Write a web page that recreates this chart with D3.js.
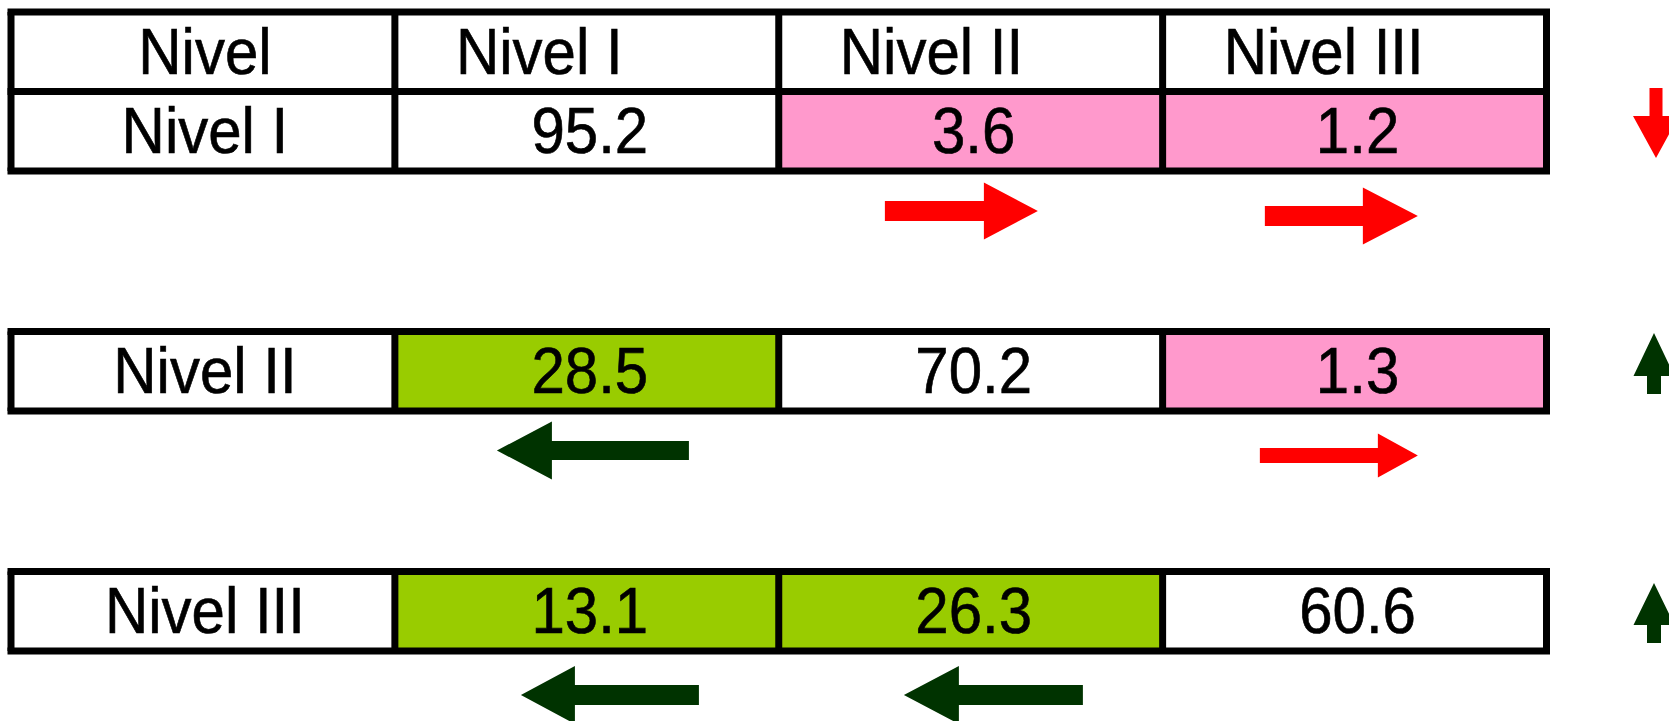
<!DOCTYPE html>
<html>
<head>
<meta charset="utf-8">
<script src="https://cdn.jsdelivr.net/npm/d3@7"></script>
<style>
  html, body { margin: 0; padding: 0; background: #fff; }
  svg { display: block; }
  text { font-family: "Liberation Sans", Arial, sans-serif; }
</style>
</head>
<body>
<svg id="chart" width="1669" height="721"></svg>
<script>
// ---------- data ----------
const headerLabels = ["Nivel", "Nivel I", "Nivel II", "Nivel III"];
const rowLabels = ["Nivel I", "Nivel II", "Nivel III"];
const rowNivelI   = [95.2, 3.6, 1.2];
const rowNivelII  = [28.5, 70.2, 1.3];
const rowNivelIII = [13.1, 26.3, 60.6];
const trend = ["down", "up", "up"];

// ---------- layout / style ----------
const colors = { up: "#FF99CC", down: "#99CC00", same: "#FFFFFF",
                 red: "#FF0000", green: "#003300", line: "#000000" };
const rowH = 79.5;
const lineW = 7;
const fontSize = 60, fontStretchY = 1.08, baseOffset = 22;

// offsets of the transition arrows relative to their cell (tail dx, tip dx, dy below row, shaft, head, headLen)
const arrowLayout = {
  "0-2": [-85.8, 67.2, 40, 20, 57, 54],
  "0-3": [-89.7, 63.3, 45, 20, 57, 55],
  "1-1": [102.1, -89.9, 39.5, 19, 58, 55],
  "1-3": [-94.7, 63.3, 44.5, 15, 44, 40],
  "2-1": [112.1, -65.9, 44, 20, 58, 54],
  "2-2": [112.2, -66.8, 44, 20, 58, 55]
};
// trend arrows at right: (dx from table right, tail dy, tip dy from row top, shaft, head, headLen)
const trendLayout = [
  [109.5, -3.5, 66.5, 13, 46, 42],
  [107.5, 62.5, 1.5, 14, 41, 43],
  [107.5, 71.5, 11.5, 14, 41, 42]
];

const matrix = [rowNivelI, rowNivelII, rowNivelIII];

const svg = d3.select("#chart");

const x = d3.scaleBand().domain(d3.range(headerLabels.length)).range([11, 1546.5]);
const y = d3.scaleLinear().domain([0, rowLabels.length - 1]).range([91.5, 571.5]);
const cx = c => x(c) + x.bandwidth() / 2;
const xRight = x(headerLabels.length - 1) + x.bandwidth();

function addText(g, str, tx, ty, anchor) {
  g.append("g")
    .attr("transform", `translate(${tx},${ty}) scale(1,${fontStretchY})`)
    .append("text")
    .attr("x", 0).attr("y", 0)
    .attr("text-anchor", anchor)
    .attr("font-size", fontSize)
    .attr("fill", "#000")
    .attr("stroke", "#000")
    .attr("stroke-width", 0.6)
    .text(str);
}

function hArrow(tail, tip, cyv, s, h, hl) {
  const d = Math.sign(tip - tail);
  const bx = tip - d * hl;
  return [[tail, cyv - s / 2], [bx, cyv - s / 2], [bx, cyv - h / 2], [tip, cyv],
          [bx, cyv + h / 2], [bx, cyv + s / 2], [tail, cyv + s / 2]];
}
function vArrow(cxv, tail, tip, s, h, hl) {
  const d = Math.sign(tip - tail);
  const by = tip - d * hl;
  return [[cxv - s / 2, tail], [cxv - s / 2, by], [cxv - h / 2, by], [cxv, tip],
          [cxv + h / 2, by], [cxv + s / 2, by], [cxv + s / 2, tail]];
}
const line = d3.line();

// ---------- cells ----------
const headerTop = y(0) - rowH;
const gc = svg.append("g");
headerLabels.forEach((lab, c) => {
  gc.append("rect").attr("x", x(c)).attr("y", headerTop)
    .attr("width", x.bandwidth()).attr("height", rowH).attr("fill", "#fff");
});
rowLabels.forEach((lab, i) => {
  const top = y(i);
  gc.append("rect").attr("x", x(0)).attr("y", top).attr("width", x.bandwidth()).attr("height", rowH).attr("fill", colors.same);
  matrix[i].forEach((v, j) => {
    const cls = j > i ? "up" : (j < i ? "down" : "same");
    gc.append("rect").attr("x", x(j + 1)).attr("y", top)
      .attr("width", x.bandwidth()).attr("height", rowH).attr("fill", colors[cls]);
  });
});

// ---------- grid lines ----------
const gl = svg.append("g").attr("stroke", colors.line).attr("stroke-width", lineW).attr("fill", "none");
function hLine(yy) {
  gl.append("line").attr("x1", x(0) - lineW / 2).attr("x2", xRight + lineW / 2).attr("y1", yy).attr("y2", yy);
}
function vLines(y0, y1) {
  d3.range(headerLabels.length + 1).forEach(c => {
    const xx = c < headerLabels.length ? x(c) : xRight;
    gl.append("line").attr("x1", xx).attr("x2", xx).attr("y1", y0).attr("y2", y1);
  });
}
[headerTop, y(0), y(0) + rowH].forEach(hLine);
vLines(headerTop, y(0) + rowH);
[1, 2].forEach(i => {
  [y(i), y(i) + rowH].forEach(hLine);
  vLines(y(i), y(i) + rowH);
});

// ---------- texts ----------
const gt = svg.append("g");
headerLabels.forEach((lab, c) => {
  if (c === 0) addText(gt, lab, cx(c) + 2, headerTop + rowH / 2 + baseOffset, "middle");
  else addText(gt, lab, x(c) + 61, headerTop + rowH / 2 + baseOffset, "start");
});
rowLabels.forEach((lab, i) => {
  const ty = y(i) + rowH / 2 + baseOffset;
  addText(gt, lab, cx(0) + 2, ty, "middle");
  matrix[i].forEach((v, j) => {
    addText(gt, d3.format(".1f")(v), cx(j + 1) + 3, ty, "middle");
  });
});

// ---------- transition arrows ----------
const ga = svg.append("g");
rowLabels.forEach((lab, i) => {
  matrix[i].forEach((v, j) => {
    if (j === i) return;
    const col = j + 1;
    const L = arrowLayout[`${i}-${col}`];
    const c0 = cx(col), yb = y(i) + rowH;
    const pts = hArrow(c0 + L[0], c0 + L[1], yb + L[2], L[3], L[4], L[5]);
    ga.append("path").attr("d", line(pts) + "Z")
      .attr("fill", j > i ? colors.red : colors.green);
  });
});

// ---------- trend arrows at right ----------
trend.forEach((t, i) => {
  const L = trendLayout[i];
  const pts = vArrow(xRight + L[0], y(i) + L[1], y(i) + L[2], L[3], L[4], L[5]);
  ga.append("path").attr("d", line(pts) + "Z")
    .attr("fill", t === "down" ? colors.red : colors.green);
});
</script>
</body>
</html>
